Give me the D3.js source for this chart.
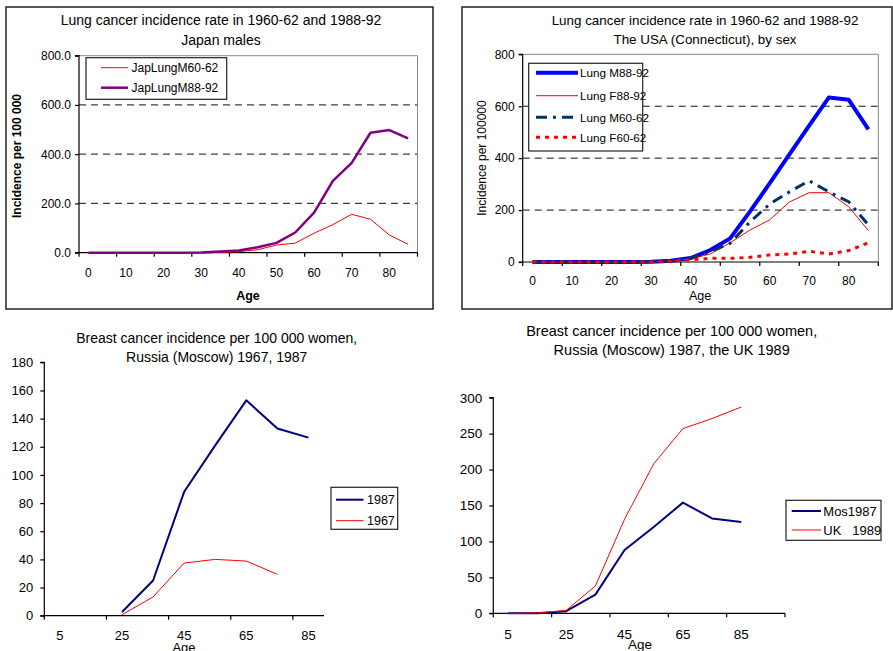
<!DOCTYPE html>
<html><head><meta charset="utf-8">
<script src="https://cdn.jsdelivr.net/npm/d3@7/dist/d3.min.js"></script>
<style>
html,body{margin:0;padding:0;background:#fff;}
svg{display:block;font-family:"Liberation Sans",Arial,sans-serif;}
</style></head>
<body>
<svg id="c" width="893" height="651"></svg>
<script>
// ---------- DATA ----------
const lungAges = [0,5,10,15,20,25,30,35,40,45,50,55,60,65,70,75,80,85];
const lungAgeLabels = [0,10,20,30,40,50,60,70,80];

const japLungM6062 = [0,0,0,0,0,0,0,1,4,12,31,39,79,114,156,136,72,34];
const japLungM8892 = [0,0,0,0,0,0,1,5,9,22,40,82,163,292,365,487,498,464];

const usaLungM8892 = [0,0,0,0,0,0,1,5,15,46,91,194,303,415,525,634,625,511];
const usaLungF8892 = [0,0,0,0,0,0,1,4,12,31,74,123,162,231,267,267,213,121];
const usaLungM6062 = [0,0,0,0,0,0,1,5,15,40,72,154,223,270,313,270,232,143];
const usaLungF6062 = [0,0,0,0,0,0,0,3,8,14,14,18,27,31,41,31,44,74];

const breastAges3 = [5,15,25,35,45,55,65,75,85];
const breastAges4 = [5,15,25,35,45,55,65,75,85,95];
const breastAgeLabels = [5,25,45,65,85];

const mos1987 = [null,null,2.6,25,88,121,153,133,126.5];
const mos1967 = [null,null,0.7,13.3,37.4,40,38.8,29.4,null];

const mos1987b = [0,0,3,26,88,120,154,132,127];
const uk1989   = [0,0.5,4,38,131,208,257,271,287];

// ---------- DRAW ----------
const svg = d3.select("#c");
const FONT = "'Liberation Sans', Arial, sans-serif";

function panel(cfg){
  const g = svg.append("g");
  if (cfg.frame) {
    g.append("rect").attr("x",cfg.frame[0]).attr("y",cfg.frame[1])
      .attr("width",cfg.frame[2]-cfg.frame[0]).attr("height",cfg.frame[3]-cfg.frame[1])
      .attr("fill","none").attr("stroke","#222").attr("stroke-width",1.5);
  }
  const x = d3.scaleBand().domain(cfg.cats).range([cfg.x0,cfg.x1]).padding(0);
  const y = d3.scaleLinear().domain([0,cfg.ymax]).range([cfg.y0,cfg.y1]);
  const yTicks = d3.range(0,cfg.ymax+0.001,cfg.ystep);

  if (cfg.grid) {
    g.selectAll("line.grid").data(yTicks.filter(v=>v>0 && v<cfg.ymax)).enter().append("line")
      .attr("x1",cfg.x0).attr("x2",cfg.x1).attr("y1",d=>y(d)).attr("y2",d=>y(d))
      .attr("stroke",cfg.grid.color).attr("stroke-width",cfg.grid.width)
      .attr("stroke-dasharray",cfg.grid.dash);
  }
  if (cfg.plotBorder) {
    g.append("path").attr("d",`M${cfg.x0},${y(cfg.ymax)}H${cfg.x1}V${cfg.y0}`)
      .attr("fill","none").attr("stroke","#888").attr("stroke-width",1);
  }

  const ya = d3.axisLeft(y).tickValues(yTicks).tickSize(cfg.ytickLen).tickPadding(cfg.ytickPad)
     .tickFormat(cfg.yfmt);
  const yg = g.append("g").attr("transform",`translate(${cfg.x0},0)`).call(ya);
  yg.select(".domain").attr("stroke","#000").attr("stroke-width",1.2).attr("d",`M-${cfg.ytickLen},${cfg.y1}H0V${cfg.y0}H-${cfg.ytickLen}`);
  yg.selectAll(".tick line").attr("stroke","#000").attr("stroke-width",1.2);
  yg.selectAll(".tick text").attr("font-family",FONT).attr("font-size",cfg.tickFont).attr("fill","#000");

  const bw = x.bandwidth();
  g.append("line").attr("x1",cfg.x0).attr("x2",cfg.xAxisEnd||cfg.x1).attr("y1",cfg.y0).attr("y2",cfg.y0)
    .attr("stroke","#000").attr("stroke-width",1.2);
  const tickIdx = d3.range(0,cfg.cats.length+1,2).filter(i=>i<=cfg.cats.length);
  g.selectAll("line.xt").data(tickIdx).enter().append("line")
    .attr("x1",i=> i<cfg.cats.length ? x(cfg.cats[i]) : x(cfg.cats[i-1])+bw)
    .attr("x2",i=> i<cfg.cats.length ? x(cfg.cats[i]) : x(cfg.cats[i-1])+bw)
    .attr("y1",cfg.y0).attr("y2",cfg.y0+cfg.xtickLen)
    .attr("stroke","#000").attr("stroke-width",1.2);
  g.selectAll("text.xl").data(cfg.xlabels).enter().append("text")
    .attr("x",d=>x(d)+bw/2).attr("y",cfg.xlabelY).attr("text-anchor","middle")
    .attr("font-family",FONT).attr("font-size",cfg.tickFont).text(d=>d);

  if (cfg.xTitle) g.append("text").attr("x",cfg.xTitle.x).attr("y",cfg.xTitle.y)
      .attr("text-anchor","middle").attr("font-family",FONT).attr("font-size",cfg.xTitle.size)
      .attr("font-weight",cfg.xTitle.bold?"bold":"normal").text(cfg.xTitle.text);
  if (cfg.yTitle) g.append("text").attr("transform",`translate(${cfg.yTitle.x},${cfg.yTitle.y}) rotate(-90)`)
      .attr("text-anchor","middle").attr("dominant-baseline","central").attr("font-family",FONT)
      .attr("font-size",cfg.yTitle.size).attr("font-weight",cfg.yTitle.bold?"bold":"normal").text(cfg.yTitle.text);

  cfg.title.lines.forEach((t,i)=>{
    g.append("text").attr("x",cfg.title.x).attr("y",cfg.title.y[i]).attr("text-anchor","middle")
      .attr("font-family",FONT).attr("font-size",cfg.title.size).text(t);
  });

  const line = d3.line().defined(d=>d.v!=null).x(d=>x(d.c)+bw/2).y(d=>y(d.v));
  cfg.series.forEach(s=>{
    const pts = cfg.cats.map((c,i)=>({c:c,v:(i<s.values.length?s.values[i]:null)}));
    g.append("path").datum(pts).attr("d",line).attr("fill","none")
      .attr("stroke",s.color).attr("stroke-width",s.width)
      .attr("stroke-dasharray",s.dash||null).attr("stroke-linejoin","round");
  });

  const L = cfg.legend;
  g.append("rect").attr("x",L.x).attr("y",L.y).attr("width",L.w).attr("height",L.h)
    .attr("fill","#fff").attr("stroke","#222").attr("stroke-width",1.2);
  cfg.series.forEach((s,i)=>{
    const ry = L.rows[i];
    g.append("line").attr("x1",L.lx1).attr("x2",L.lx2).attr("y1",ry).attr("y2",ry)
      .attr("stroke",s.color).attr("stroke-width",s.width).attr("stroke-dasharray",s.legendDash||s.dash||null);
    g.append("text").attr("x",L.tx).attr("y",ry).attr("dominant-baseline","central")
      .attr("font-family",FONT).attr("font-size",L.size).attr("xml:space","preserve")
      .style("white-space","pre").text(s.name);
  });
}

// Panel 1: Japan males
panel({
  frame:[6,7,433,309],
  cats: lungAges, xlabels: lungAgeLabels,
  x0:79, x1:417.5, y0:252.7, y1:55.7, ymax:800, ystep:200, yfmt:d3.format(".1f"),
  ytickLen:4, ytickPad:4, xtickLen:4, xlabelY:277, tickFont:"12px",
  grid:{color:"#404040", width:1.3, dash:"7,5"}, plotBorder:true,
  xTitle:{x:248,y:300,text:"Age",size:"12.5px",bold:true},
  yTitle:{x:17,y:156,text:"Incidence per 100 000",size:"12px",bold:true},
  title:{x:221,y:[25,45],size:"14px",lines:["Lung cancer incidence rate in 1960-62 and 1988-92","Japan males"]},
  series:[
    {name:"JapLungM60-62", values:japLungM6062, color:"#FF0000", width:1},
    {name:"JapLungM88-92", values:japLungM8892, color:"#800080", width:2.5}
  ],
  legend:{x:86,y:57.7,w:140.7,h:41.6,rows:[67.7,87.7],lx1:101,lx2:128,tx:131.5,size:"12px"}
});

// Panel 2: USA
panel({
  frame:[462,7,892,309],
  cats: lungAges, xlabels: lungAgeLabels,
  x0:522.7, x1:878.3, y0:262, y1:54.3, ymax:800, ystep:200, yfmt:d3.format("d"),
  ytickLen:4, ytickPad:4, xtickLen:4, xlabelY:285, tickFont:"12px",
  grid:{color:"#111", width:1, dash:"7,5"}, plotBorder:true,
  xTitle:{x:700,y:300,text:"Age",size:"12.5px",bold:false},
  yTitle:{x:482,y:158,text:"Incidence per 100000",size:"12px",bold:false},
  title:{x:705,y:[25,44],size:"13.4px",lines:["Lung cancer incidence rate in 1960-62 and 1988-92","The USA (Connecticut), by sex"]},
  series:[
    {name:"Lung M88-92", values:usaLungM8892, color:"#0000FF", width:4},
    {name:"Lung F88-92", values:usaLungF8892, color:"#FF0000", width:1},
    {name:"Lung M60-62", values:usaLungM6062, color:"#003366", width:3, dash:"11,6,3,6"},
    {name:"Lung F60-62", values:usaLungF6062, color:"#FF0000", width:3, dash:"4,5"}
  ],
  legend:{x:528.7,y:63.3,w:114,h:87.7,rows:[72.7,95.7,117.3,137.3],lx1:536,lx2:578,tx:580,size:"11.7px"}
});

// Panel 3: Moscow 1967, 1987
panel({
  cats: breastAges3, xlabels: breastAgeLabels, xAxisEnd:324,
  x0:44.3, x1:324, y0:615.7, y1:362.3, ymax:180, ystep:20, yfmt:d3.format("d"),
  ytickLen:4, ytickPad:7, xtickLen:4, xlabelY:640, tickFont:"13px",
  xTitle:{x:184,y:652,text:"Age",size:"13px",bold:false},
  title:{x:216.7,y:[343,362],size:"14px",lines:["Breast cancer incidence per 100 000 women,","Russia (Moscow) 1967, 1987"]},
  series:[
    {name:"1987", values:mos1987, color:"#000080", width:2},
    {name:"1967", values:mos1967, color:"#FF0000", width:1}
  ],
  legend:{x:331,y:487.3,w:66.7,h:42,rows:[499.7,520.7],lx1:336,lx2:363.5,tx:367,size:"12.5px"}
});

// Panel 4: Moscow 1987, UK 1989
panel({
  cats: breastAges4, xlabels: breastAgeLabels,
  x0:493.3, x1:785, y0:613.3, y1:397.7, ymax:300, ystep:50, yfmt:d3.format("d"),
  ytickLen:4, ytickPad:7, xtickLen:4, xlabelY:639, tickFont:"13.5px",
  xTitle:{x:640,y:649,text:"Age",size:"13.5px",bold:false},
  title:{x:671.7,y:[336,355],size:"14.5px",lines:["Breast cancer incidence per 100 000 women,","Russia (Moscow) 1987, the UK 1989"]},
  series:[
    {name:"Mos1987", values:mos1987b, color:"#000080", width:2},
    {name:"UK   1989", values:uk1989, color:"#FF0000", width:1}
  ],
  legend:{x:786,y:500.3,w:95,h:40,rows:[511,530],lx1:791.7,lx2:821,tx:823.3,size:"13px"}
});
</script>
</body></html>
